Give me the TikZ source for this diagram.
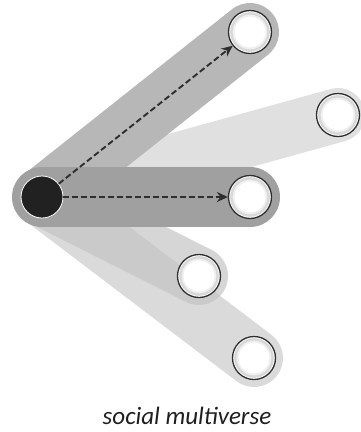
\documentclass[tikz,border=0pt]{standalone}
\usepackage{fontspec}
\setmainfont{Carlito}
\usetikzlibrary{arrows.meta}
\definecolor{bandTop}{HTML}{B7B7B7}
\definecolor{bandFar}{HTML}{E0E0E0}
\definecolor{bandMid}{HTML}{A0A0A0}
\definecolor{bandLowA}{HTML}{C4C4C4}
\definecolor{bandLowB}{HTML}{D4D4D4}
\definecolor{ink}{HTML}{2E2E2E}
\tikzset{
  band/.style={line width=58pt, line cap=round},
  target/.style={circle, minimum size=43pt, inner sep=0pt, fill=white, draw=ink, line width=1.3pt},
  source/.style={circle, minimum size=42pt, inner sep=0pt, fill=black!87, draw=white, line width=0.8pt},
  dasharrow/.style={draw=ink, line width=1.9pt, dash pattern=on 6pt off 3pt, -{Stealth[length=11pt,width=10pt]}},
  caption/.style={font=\fontsize{25}{28}\selectfont\itshape, text=black!88}
}
\begin{document}
\begin{tikzpicture}[x=1pt,y=-1pt]
\useasboundingbox (0,0) rectangle (361,432);
\coordinate (s) at (42,197);
\coordinate (c1) at (250,32);
\coordinate (c2) at (338,115);
\coordinate (c3) at (250,197);
\coordinate (c4) at (199,276);
\coordinate (c5) at (254,358);
% bands
\draw[band, draw=bandLowB, opacity=0.85] (s) -- (c5);
\draw[band, draw=bandLowA, opacity=0.7] (s) -- (c4);
\draw[band, draw=bandFar, line width=54pt] (s) -- (c2);
\draw[band, draw=bandTop] (s) -- (c1);
\draw[band, draw=bandMid, line width=60pt] (s) -- (c3);
% nodes
\node[source] (src) at (s) {};
\foreach \n in {1,...,5}{
  \node[target] (t\n) at (c\n) {};
  \draw[black!25, line width=2.5pt, opacity=0.6] (c\n) circle (18.6pt);
  \draw[black!10, line width=2pt, opacity=0.6] (c\n) circle (16.5pt);
}
% arrows
\draw[dasharrow] (src) -- (t1);
\draw[dasharrow] (src) -- (t3);
% caption
\node[caption] (cap) at (187,416) {social multiverse};
\end{tikzpicture}
\end{document}
